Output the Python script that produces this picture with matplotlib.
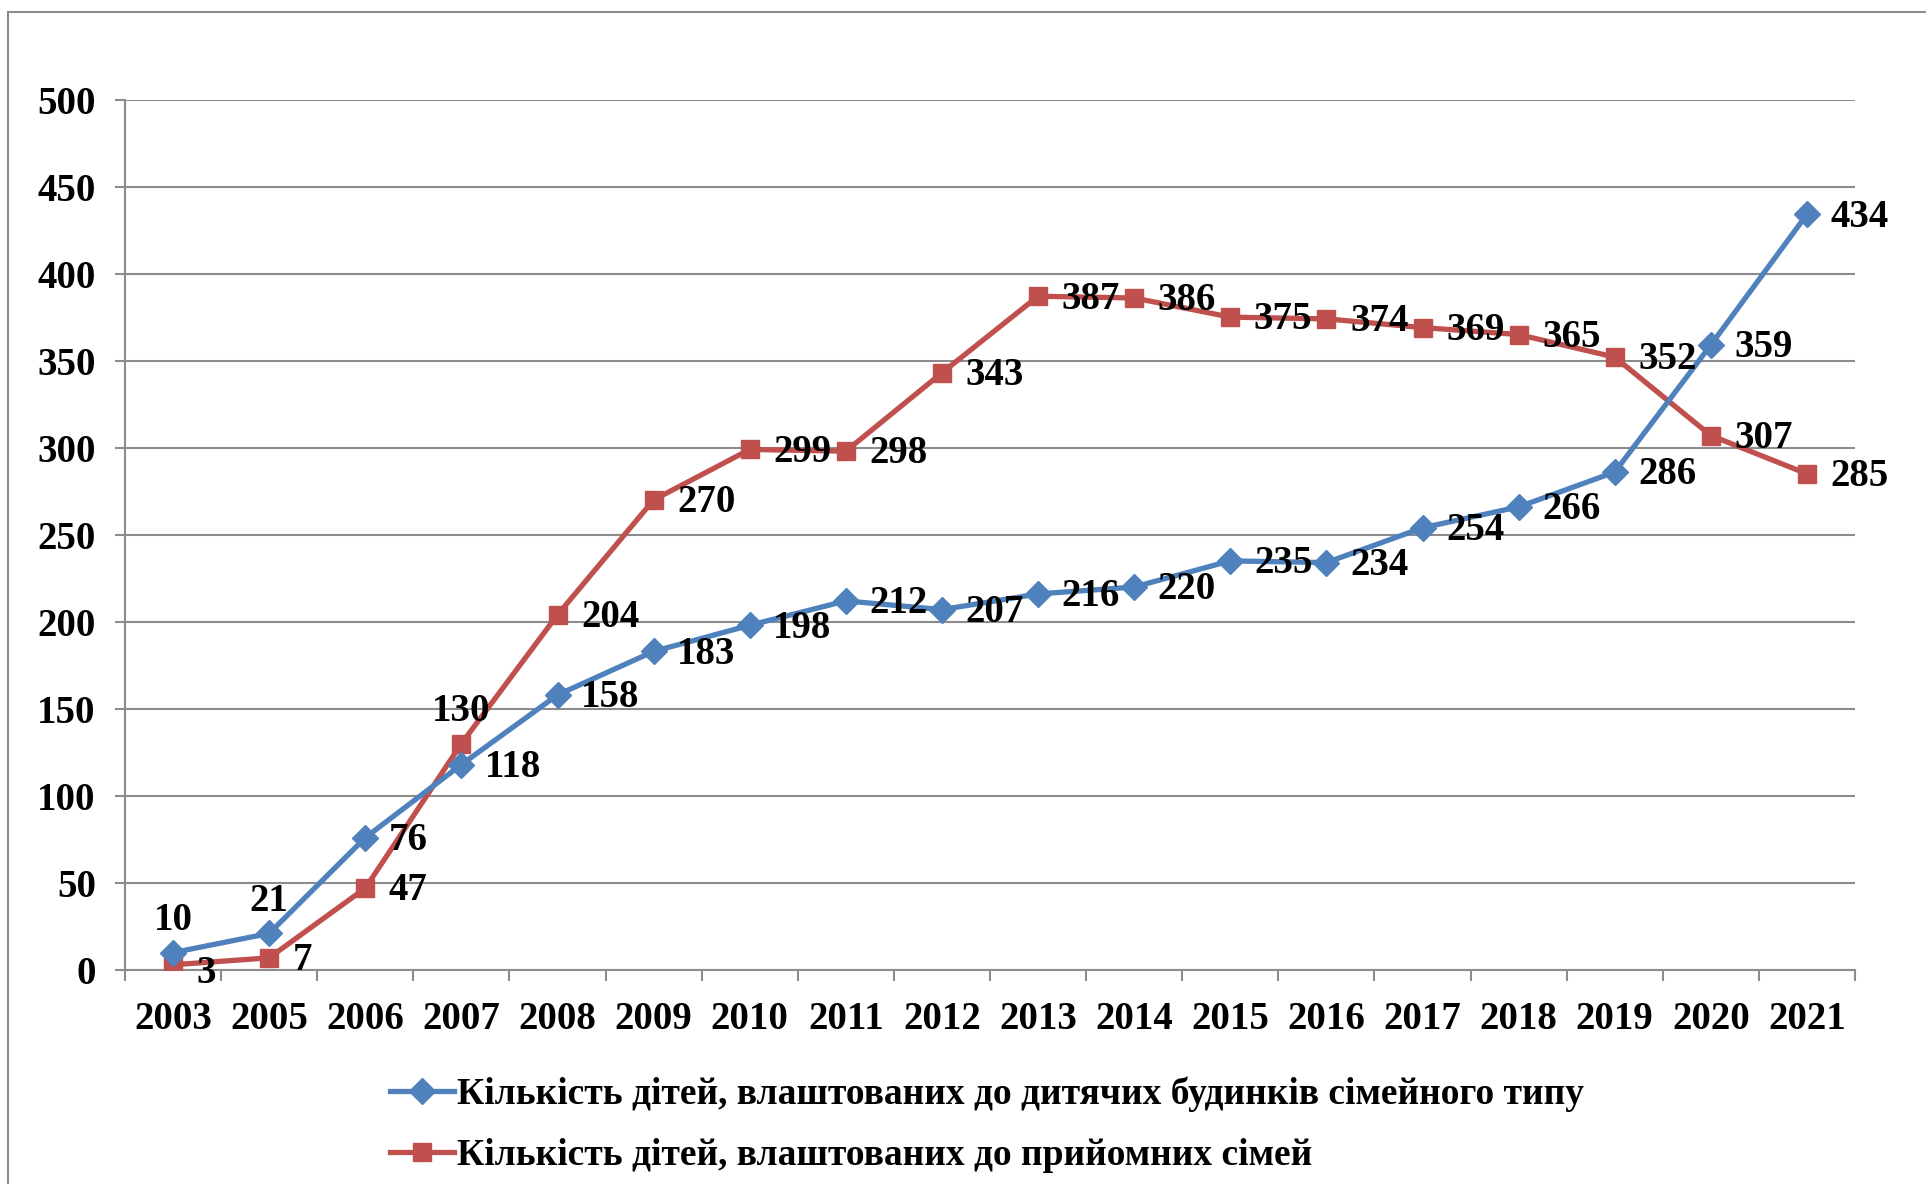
import matplotlib
matplotlib.use("Agg")
import matplotlib.pyplot as plt
from matplotlib.patches import Rectangle
import numpy as np

years = ["2003", "2005", "2006", "2007", "2008", "2009", "2010", "2011", "2012",
         "2013", "2014", "2015", "2016", "2017", "2018", "2019", "2020", "2021"]
family_homes = [10, 21, 76, 118, 158, 183, 198, 212, 207, 216, 220, 235, 234, 254, 266, 286, 359, 434]
foster_families = [3, 7, 47, 130, 204, 270, 299, 298, 343, 387, 386, 375, 374, 369, 365, 352, 307, 285]
label_home = "Кількість дітей, влаштованих до дитячих будинків сімейного типу"
label_foster = "Кількість дітей, влаштованих до прийомних сімей"
yticks = [0, 50, 100, 150, 200, 250, 300, 350, 400, 450, 500]

plt.rcParams['font.family'] = ['Liberation Serif', 'DejaVu Serif']
plt.rcParams['font.weight'] = 'bold'

W, H = 1926, 1184
fig = plt.figure(figsize=(W / 100, H / 100), dpi=100)
ax = fig.add_axes([125 / W, 1 - 970 / H, (1855 - 125) / W, (970 - 99.5) / H])

# outer chart border
fig.patches.append(Rectangle((8 / W, -0.02), 1.1, 1 - 12 / H + 0.02, transform=fig.transFigure,
                             fill=False, edgecolor="#8c8c8c", linewidth=1.5, zorder=0))

blue = "#4F81BD"
red = "#C0504D"
grid_c = "#8c8c8c"
x = np.arange(len(years))

ax.plot(x, family_homes, color=blue, lw=3.8, marker="D", ms=13, label=label_home, zorder=4)
ax.plot(x, foster_families, color=red, lw=3.8, marker="s", ms=13, label=label_foster, zorder=3)

ax.set_xlim(-0.5, len(years) - 0.5)
ax.set_ylim(0, 500)
ax.set_yticks(yticks)
ax.set_yticklabels([str(v) for v in yticks])
ax.set_xticks(x)
ax.set_xticklabels(years)
ax.set_xticks(np.arange(-0.5, len(years), 1.0), minor=True)

for v in yticks:
    ax.axhline(v, color=grid_c, lw=1.5, zorder=1)

for s in ["top", "right"]:
    ax.spines[s].set_visible(False)
for s in ["left", "bottom"]:
    ax.spines[s].set_color(grid_c)
    ax.spines[s].set_linewidth(1.5)

ax.tick_params(axis="y", length=7, width=1.5, color=grid_c, pad=14, labelsize=28)
ax.tick_params(axis="x", which="major", length=0, pad=22, labelsize=28)
ax.tick_params(axis="x", which="minor", length=8, width=1.5, color=grid_c)
for t in ax.get_xticklabels() + ax.get_yticklabels():
    t.set_fontweight("bold")

def put_labels(vals, special):
    for i, v in enumerate(vals):
        pos = special.get(i, "right")
        if pos == "right":
            ax.annotate(str(v), (i, v), xytext=(17, -2), textcoords="offset points",
                        ha="left", va="center", fontsize=28, fontweight="bold", zorder=6)
        elif pos == "top":
            ax.annotate(str(v), (i, v), xytext=(0, 10), textcoords="offset points",
                        ha="center", va="bottom", fontsize=28, fontweight="bold", zorder=6)
        elif pos == "below-right":
            ax.annotate(str(v), (i, v), xytext=(17, -6), textcoords="offset points",
                        ha="left", va="center", fontsize=28, fontweight="bold", zorder=6)

put_labels(family_homes, {0: "top", 1: "top"})
put_labels(foster_families, {0: "below-right", 3: "top"})

fig.legend(loc="upper left", bbox_to_anchor=(390 / W, 1 - 1077 / H), frameon=False,
           handlelength=1.7, handletextpad=0.08, borderpad=0, borderaxespad=0,
           labelspacing=0.68, prop={"weight": "bold", "size": 27})

fig.savefig("out.png", dpi=100)
